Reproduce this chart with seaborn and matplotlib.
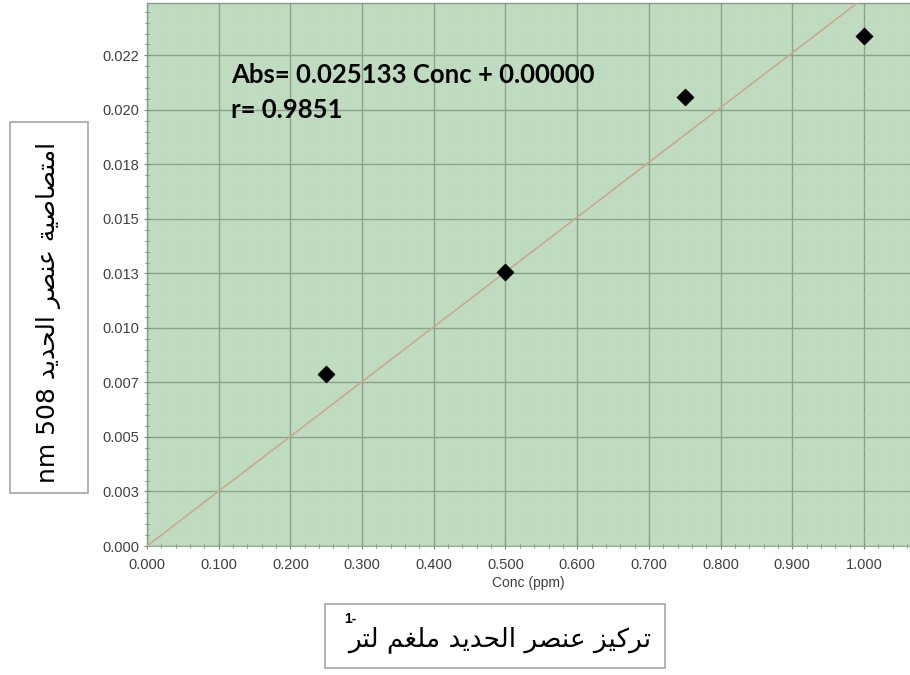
import numpy as np
import pandas as pd
import matplotlib
matplotlib.use("Agg")
import matplotlib.pyplot as plt
from matplotlib.patches import Rectangle
from matplotlib.ticker import FixedLocator, FixedFormatter, MultipleLocator
import seaborn as sns

# Calibration standards (iron, ppm) and measured absorbance at 508 nm
conc = [0.25, 0.50, 0.75, 1.00]
absorbance = [0.0079, 0.01255, 0.0206, 0.0234]

# Regression reported by the instrument
slope = 0.025133
intercept = 0.0
r_value = 0.9851

x_ticks = [0.0, 0.1, 0.2, 0.3, 0.4, 0.5, 0.6, 0.7, 0.8, 0.9, 1.0]
x_tick_labels = ["0.000", "0.100", "0.200", "0.300", "0.400", "0.500",
                 "0.600", "0.700", "0.800", "0.900", "1.000"]
y_ticks = [0.0, 0.0025, 0.005, 0.0075, 0.01, 0.0125, 0.015, 0.0175, 0.02, 0.0225]
y_tick_labels = ["0.000", "0.003", "0.005", "0.007", "0.010", "0.013",
                 "0.015", "0.018", "0.020", "0.022"]

x_axis_title = "Conc (ppm)"
y_title_ar = "امتصاصية عنصر الحديد"
y_title_unit = "nm 508"
x_title_ar = "تركيز عنصر الحديد ملغم لتر"
x_title_sup = "1-"

# Arabic contextual forms: isolated, final, initial, medial
FORMS = {
    "ا": ("\uFE8D", "\uFE8E", None, None),
    "ت": ("\uFE95", "\uFE96", "\uFE97", "\uFE98"),
    "ة": ("\uFE93", "\uFE94", None, None),
    "ح": ("\uFEA1", "\uFEA2", "\uFEA3", "\uFEA4"),
    "د": ("\uFEA9", "\uFEAA", None, None),
    "ر": ("\uFEAD", "\uFEAE", None, None),
    "ز": ("\uFEAF", "\uFEB0", None, None),
    "ص": ("\uFEB9", "\uFEBA", "\uFEBB", "\uFEBC"),
    "ع": ("\uFEC9", "\uFECA", "\uFECB", "\uFECC"),
    "غ": ("\uFECD", "\uFECE", "\uFECF", "\uFED0"),
    "ك": ("\uFED9", "\uFEDA", "\uFEDB", "\uFEDC"),
    "ل": ("\uFEDD", "\uFEDE", "\uFEDF", "\uFEE0"),
    "م": ("\uFEE1", "\uFEE2", "\uFEE3", "\uFEE4"),
    "ن": ("\uFEE5", "\uFEE6", "\uFEE7", "\uFEE8"),
    "ي": ("\uFEF1", "\uFEF2", "\uFEF3", "\uFEF4"),
}


def arabic_visual(text):
    """Join letters into their contextual forms and lay them out right-to-left."""
    out = []
    for i, ch in enumerate(text):
        forms = FORMS.get(ch)
        if forms is None:
            out.append(ch)
            continue
        prev = text[i - 1] if i > 0 else None
        nxt = text[i + 1] if i + 1 < len(text) else None
        joins_prev = prev in FORMS and FORMS[prev][2] is not None
        joins_next = forms[2] is not None and nxt in FORMS
        if joins_prev and joins_next:
            out.append(forms[3])
        elif joins_prev:
            out.append(forms[1])
        elif joins_next:
            out.append(forms[2])
        else:
            out.append(forms[0])
    return "".join(out)[::-1]


sns.set_theme(style="white")
plt.rcParams["font.family"] = ["Liberation Sans", "DejaVu Sans"]

W, H = 910, 675
fig = plt.figure(figsize=(W / 100, H / 100), dpi=100)
fig.patch.set_facecolor("white")

ax = fig.add_axes([147 / W, 1 - 546 / H, (W - 147) / W, (546 - 3) / H])
ax.set_facecolor("#c0dcc0")

df = pd.DataFrame({"conc": conc, "abs": absorbance})
fit_x = np.array([0.0, 1.2])
fit = pd.DataFrame({"conc": fit_x, "abs": slope * fit_x + intercept})

sns.lineplot(data=fit, x="conc", y="abs", ax=ax, color="#c9a88e", lw=1.2, zorder=3)
sns.scatterplot(data=df, x="conc", y="abs", ax=ax, marker="D", s=75,
                color="black", edgecolor="black", linewidth=0.5, zorder=4)

ax.set_xlim(0, (W - 147) / 717)
ax.set_ylim(0, 0.0249)

ax.xaxis.set_major_locator(FixedLocator(x_ticks))
ax.xaxis.set_major_formatter(FixedFormatter(x_tick_labels))
ax.yaxis.set_major_locator(FixedLocator(y_ticks))
ax.yaxis.set_major_formatter(FixedFormatter(y_tick_labels))
ax.xaxis.set_minor_locator(MultipleLocator(0.02))
ax.yaxis.set_minor_locator(MultipleLocator(0.0005))

ax.grid(which="major", color="#8aa28a", lw=1.0, zorder=1)
ax.grid(which="minor", color="#b9d4b9", lw=0.5, ls=(0, (1, 3)), zorder=1)
ax.set_axisbelow(True)

ax.tick_params(axis="both", which="major", direction="inout", length=5, width=0.8,
               color="#7a8a7a", labelsize=10.5, labelcolor="#404040")
ax.tick_params(axis="both", which="minor", direction="inout", length=3, width=0.7,
               color="#7a8a7a")
ax.tick_params(axis="x", which="both", bottom=True, top=False, pad=6)
ax.tick_params(axis="y", which="both", left=True, right=False, pad=3)

for side in ["left", "top"]:
    ax.spines[side].set_color("#8a9a8a")
    ax.spines[side].set_linewidth(1.0)
ax.spines["bottom"].set_color("#9aaa9a")
ax.spines["bottom"].set_linewidth(0.8)
ax.spines["right"].set_visible(False)

ax.set_xlabel(x_axis_title, fontsize=10, color="#404040", labelpad=3)
ax.set_ylabel("")

# Regression equation inside the plot area
eq_font = dict(family=["Lato", "DejaVu Sans"], fontweight="bold", fontsize=18.5, color="black")
ax.text((231 - 147) / (W - 147), 1 - (83 - 3) / 543,
        f"Abs= {slope:.6f} Conc + {intercept:.5f}", transform=ax.transAxes,
        ha="left", va="baseline", **eq_font)
ax.text((231 - 147) / (W - 147), 1 - (118 - 3) / 543,
        f"r= {r_value:.4f}", transform=ax.transAxes,
        ha="left", va="baseline", **eq_font)

# Boxed Arabic axis titles
box_style = dict(facecolor="white", edgecolor="#a6a6a6", lw=1.2, transform=fig.transFigure)
fig.add_artist(Rectangle((10 / W, 1 - 493 / H), 78 / W, 371 / H, **box_style))
fig.add_artist(Rectangle((325 / W, 1 - 668 / H), 340 / W, 64 / H, **box_style))

fig.text(49 / W, 1 - 312 / H, y_title_unit + " " + arabic_visual(y_title_ar),
         rotation=90, ha="center", va="center",
         family=["DejaVu Sans"], fontsize=18, color="black")
fig.text(651 / W, 1 - 640 / H, arabic_visual(x_title_ar),
         ha="right", va="center",
         family=["DejaVu Sans"], fontsize=19, color="black")
fig.text(344 / W, 1 - 619 / H, x_title_sup, ha="left", va="center",
         fontsize=10, fontweight="bold", color="black")

fig.savefig("out.png", dpi=100, facecolor="white")
